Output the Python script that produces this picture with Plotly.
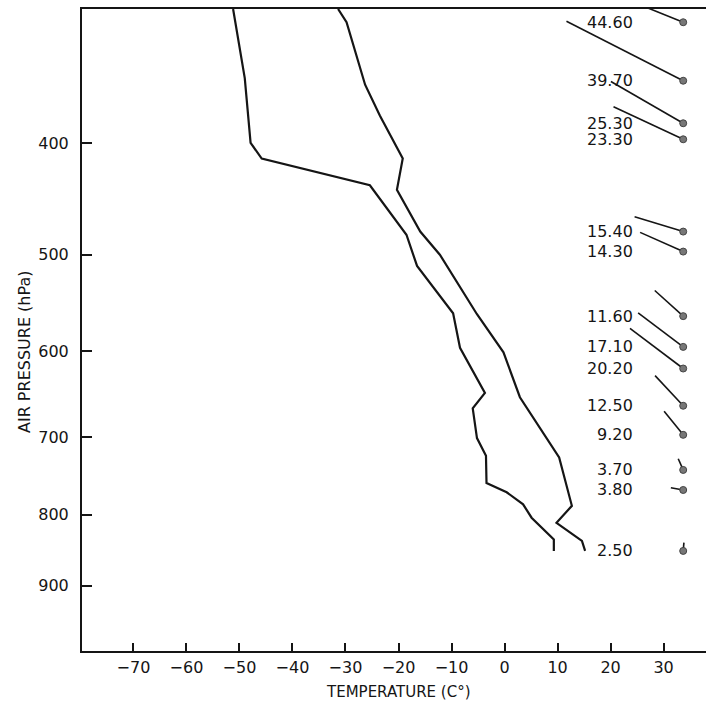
import math
import plotly.graph_objects as go

KAPPA = 0.286  # Stuve diagram: y ~ p^kappa, x ~ T

# Temperature profile (hPa, deg C)
temp_p = [300, 309, 354, 378, 413, 440, 478, 500, 560, 601, 652, 725, 788, 811, 836, 850]
temp_t = [-31.4, -29.8, -26.3, -23.5, -19.2, -20.3, -15.9, -12.2, -5.2, -0.2, 2.9, 10.3, 12.7, 9.8, 14.6, 15.2]

# Dew point profile (hPa, deg C)
dew_p = [300, 349, 400, 413, 436, 481, 511, 559, 596, 647, 665, 701, 723, 758, 770, 786, 804, 834, 850]
dew_t = [-51.2, -49.0, -47.9, -45.8, -25.4, -18.5, -16.5, -9.7, -8.4, -3.7, -6.0, -5.2, -3.5, -3.4, 0.4, 3.5, 5.1, 9.3, 9.3]

# Wind: levels (hPa), speed, direction (deg, from)
wind_p = [309, 351, 384, 397, 478, 497, 562, 595, 619, 662, 697, 741, 767, 850]
wind_speed = [44.6, 39.7, 25.3, 23.3, 15.4, 14.3, 11.6, 17.1, 20.2, 12.5, 9.2, 3.7, 3.8, 2.5]
wind_dir = [292, 297, 300, 295, 287, 294, 312, 307, 307, 317, 321, 336, 280, 5]
wind_labels = ["44.60", "39.70", "25.30", "23.30", "15.40", "14.30", "11.60",
               "17.10", "20.20", "12.50", "9.20", "3.70", "3.80", "2.50"]

x_ticks = [-70, -60, -50, -40, -30, -20, -10, 0, 10, 20, 30]
x_ticktext = ["\u221270", "\u221260", "\u221250", "\u221240", "\u221230", "\u221220",
              "\u221210", "0", "10", "20", "30"]
p_ticks = [400, 500, 600, 700, 800, 900]
p_ticktext = ["400", "500", "600", "700", "800", "900"]


def u(p):
    return p ** KAPPA


W = H = 706
ML, MR, MT, MB = 82, 0, 9, 55
X_RANGE = [-79.7, 38.0]
P_TOP, P_BOT = 300, 1000
px_per_t = (W - ML - MR) / (X_RANGE[1] - X_RANGE[0])
px_per_u = (H - MT - MB) / (u(P_BOT) - u(P_TOP))
STICK_PX = 3.3     # stick length in px per speed unit
WIND_T = 33.7      # column of wind dots (x in deg C)
LABEL_T = 24.6     # right edge of the speed labels
FONT = "DejaVu Sans"
FS = 16
INK = "#151515"

fig = go.Figure()

fig.add_trace(go.Scatter(x=temp_t, y=[u(p) for p in temp_p], mode="lines",
                         line=dict(color=INK, width=2.2), showlegend=False))
fig.add_trace(go.Scatter(x=dew_t, y=[u(p) for p in dew_p], mode="lines",
                         line=dict(color=INK, width=2.2), showlegend=False))

sx, sy = [], []
for p, s, d in zip(wind_p, wind_speed, wind_dir):
    L = STICK_PX * s
    a = math.radians(d)
    sx += [WIND_T, WIND_T + L * math.sin(a) / px_per_t, None]
    sy += [u(p), u(p) - L * math.cos(a) / px_per_u, None]
fig.add_trace(go.Scatter(x=sx, y=sy, mode="lines", line=dict(color=INK, width=1.6),
                         showlegend=False))
fig.add_trace(go.Scatter(x=[WIND_T] * len(wind_p), y=[u(p) for p in wind_p], mode="markers",
                         marker=dict(size=7, color="#777777", line=dict(color="#444444", width=1)),
                         showlegend=False))

for p, lab in zip(wind_p, wind_labels):
    fig.add_annotation(x=LABEL_T, y=u(p), text=lab, showarrow=False, xanchor="right",
                       yanchor="middle", font=dict(family=FONT, size=FS, color=INK))

fig.add_annotation(xref="paper", yref="paper", x=(398 - ML) / (W - ML - MR),
                   y=-(692 - (H - MB)) / (H - MT - MB), text="TEMPERATURE (C\u00b0)",
                   showarrow=False, xanchor="center", yanchor="middle",
                   font=dict(family=FONT, size=15, color=INK))
fig.add_annotation(xref="paper", yref="paper", x=-(ML - 24) / (W - ML - MR),
                   y=1 - (352 - MT) / (H - MT - MB), text="AIR PRESSURE (hPa)",
                   textangle=-90, showarrow=False, xanchor="center", yanchor="middle",
                   font=dict(family=FONT, size=FS, color=INK))

fig.update_xaxes(range=X_RANGE, tickvals=x_ticks, ticktext=x_ticktext, ticks="inside",
                 ticklen=8, tickwidth=1.5, tickcolor=INK, showline=True, linewidth=2,
                 linecolor=INK, mirror=True, showgrid=False, zeroline=False,
                 tickfont=dict(family=FONT, size=FS, color=INK), ticklabelstandoff=1)
fig.update_yaxes(range=[u(P_BOT), u(P_TOP)], tickvals=[u(p) for p in p_ticks],
                 ticktext=p_ticktext, ticks="inside", ticklen=10, tickwidth=1.5,
                 tickcolor=INK, showline=True, linewidth=2, linecolor=INK, mirror=False,
                 showgrid=False, zeroline=False,
                 tickfont=dict(family=FONT, size=FS, color=INK), ticklabelstandoff=8)

fig.update_layout(width=W, height=H, margin=dict(l=ML, r=MR, t=MT, b=MB),
                  paper_bgcolor="white", plot_bgcolor="white", showlegend=False)

fig.write_html("out.html", config={"displayModeBar": False},
               post_script="document.body.style.margin='0';document.body.style.overflow='hidden';")
